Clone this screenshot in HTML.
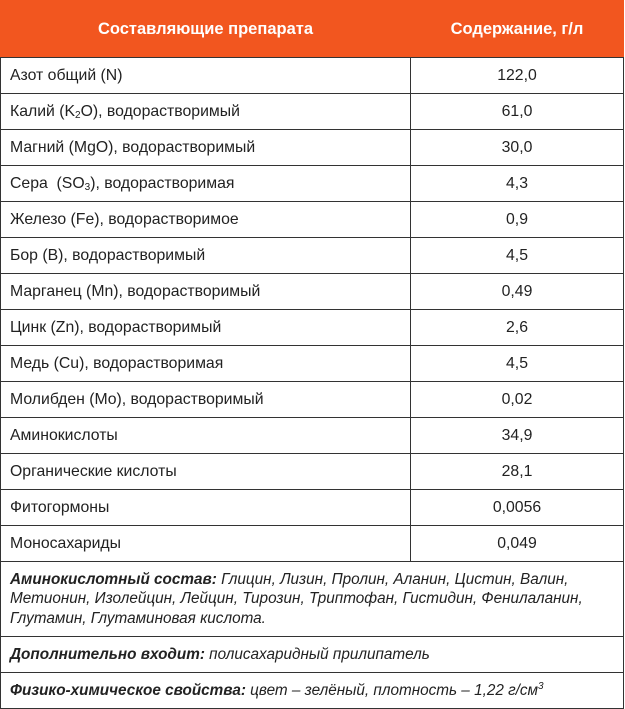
<!DOCTYPE html>
<html><head><meta charset="utf-8"><style>
body{margin:0;background:#fff;width:625px;height:709px;overflow:hidden;font-family:"Liberation Sans",sans-serif;color:#222;}
table{position:absolute;left:0;top:0;width:624px;border-collapse:collapse;table-layout:fixed;}
td,th{border:1px solid #333;font-size:15.8px;padding:0 0 0 9px;height:35px;overflow:hidden;white-space:nowrap;}
th{background:#f2561f;color:#fff;font-weight:bold;font-size:16.5px;height:56px;text-align:center;border-color:#f2561f;border-bottom-color:#333;padding:0;}
td.v{text-align:center;padding:0;}
td.t{font-style:italic;line-height:19.5px;font-size:15.3px;}
td.t b{font-style:italic;}
sub{font-size:10px;vertical-align:-2px;line-height:0}
sup{font-size:10px;line-height:0}
</style></head><body>
<table>
<colgroup><col style="width:410px"><col></colgroup>
<tr><th>Составляющие препарата</th><th>Содержание, г/л</th></tr>
<tr><td>Азот общий (N)</td><td class="v">122,0</td></tr>
<tr><td>Калий (K<sub>2</sub>O), водорастворимый</td><td class="v">61,0</td></tr>
<tr><td>Магний (MgO), водорастворимый</td><td class="v">30,0</td></tr>
<tr><td>Сера &nbsp;(SO<sub>3</sub>), водорастворимая</td><td class="v">4,3</td></tr>
<tr><td>Железо (Fe), водорастворимое</td><td class="v">0,9</td></tr>
<tr><td>Бор (B), водорастворимый</td><td class="v">4,5</td></tr>
<tr><td>Марганец (Mn), водорастворимый</td><td class="v">0,49</td></tr>
<tr><td>Цинк (Zn), водорастворимый</td><td class="v">2,6</td></tr>
<tr><td>Медь (Cu), водорастворимая</td><td class="v">4,5</td></tr>
<tr><td>Молибден (Mo), водорастворимый</td><td class="v">0,02</td></tr>
<tr><td>Аминокислоты</td><td class="v">34,9</td></tr>
<tr><td>Органические кислоты</td><td class="v">28,1</td></tr>
<tr><td>Фитогормоны</td><td class="v">0,0056</td></tr>
<tr><td>Моносахариды</td><td class="v">0,049</td></tr>
<tr><td colspan="2" class="t" style="height:74px"><b>Аминокислотный состав:</b> Глицин, Лизин, Пролин, Аланин, Цистин, Валин,<br>Метионин, Изолейцин, Лейцин, Тирозин, Триптофан, Гистидин, Фенилаланин,<br>Глутамин, Глутаминовая кислота.</td></tr>
<tr><td colspan="2" class="t"><b>Дополнительно входит:</b> полисахаридный прилипатель</td></tr>
<tr><td colspan="2" class="t"><b>Физико-химическое свойства:</b> цвет – зелёный, плотность – 1,22 г/см<sup>3</sup></td></tr>
</table>
</body></html>
